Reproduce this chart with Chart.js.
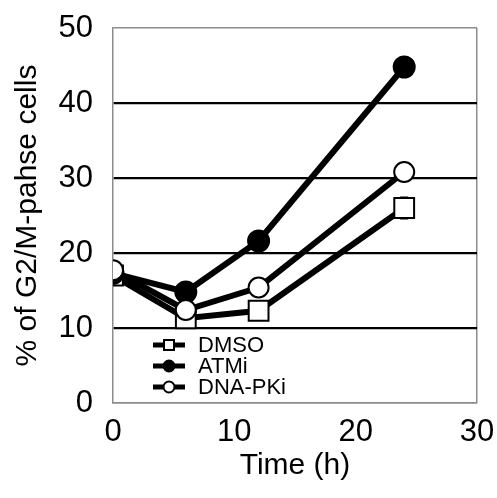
<!DOCTYPE html>
<html>
<head>
<meta charset="utf-8">
<script src="https://cdn.jsdelivr.net/npm/chart.js@4/dist/chart.umd.min.js"></script>
<style>
  body { margin: 0; background: #fff; }
  canvas { display: block; }
</style>
</head>
<body>
<canvas id="chart" width="497" height="498"></canvas>
<script>
// time points (h) and % of G2/M cells
const timePoints = [0, 6, 12, 24];
const dmso = [17.0, 11.3, 12.3, 26.0];
const dmsoErr = [0, 0, 0, 1.4];
const atmi = [17.3, 14.8, 21.6, 44.8];
const dnapki = [17.7, 12.4, 15.4, 30.8];
const seriesNames = ["DMSO", "ATMi", "DNA-PKi"];
const xTicks = [0, 10, 20, 30];
const yTicks = [0, 10, 20, 30, 40, 50];

const FONT = "'Liberation Sans', Arial, sans-serif";
const GRAY = "#8c8c8c";

const toPts = (vals) => vals.map((v, i) => ({ x: timePoints[i], y: v }));

// error bars (only DMSO has visible ones)
const errorBars = {
  id: "errorBars",
  beforeDatasetsDraw(chart) {
    const ctx = chart.ctx;
    const meta = chart.getDatasetMeta(0);
    const ys = chart.scales.y;
    ctx.save();
    ctx.strokeStyle = "#000";
    ctx.lineWidth = 2;
    meta.data.forEach((pt, i) => {
      const e = dmsoErr[i];
      if (!e) return;
      const top = ys.getPixelForValue(dmso[i] + e);
      const bot = ys.getPixelForValue(dmso[i] - e);
      ctx.beginPath();
      ctx.moveTo(pt.x, top); ctx.lineTo(pt.x, bot);
      ctx.moveTo(pt.x - 4, top); ctx.lineTo(pt.x + 4, top);
      ctx.moveTo(pt.x - 4, bot); ctx.lineTo(pt.x + 4, bot);
      ctx.stroke();
    });
    ctx.restore();
  }
};

// legend drawn inside the plot: short line with marker, then label
const innerLegend = {
  id: "innerLegend",
  afterDraw(chart) {
    const ctx = chart.ctx;
    const a = chart.chartArea;
    const x0 = a.left + 40, x1 = a.left + 72, xm = (x0 + x1) / 2;
    const rowY = [a.bottom - 58, a.bottom - 37, a.bottom - 16];
    ctx.save();
    chart.data.datasets.forEach((ds, i) => {
      const y = rowY[i];
      ctx.strokeStyle = "#000";
      ctx.lineWidth = 5;
      ctx.beginPath(); ctx.moveTo(x0, y); ctx.lineTo(x1, y); ctx.stroke();
      ctx.lineWidth = 2;
      ctx.fillStyle = ds.pointBackgroundColor;
      if (ds.pointStyle === "rect") {
        ctx.fillRect(xm - 5, y - 5, 10, 10);
        ctx.strokeRect(xm - 5, y - 5, 10, 10);
      } else {
        ctx.beginPath(); ctx.arc(xm, y, 5.5, 0, Math.PI * 2); ctx.fill(); ctx.stroke();
      }
      ctx.fillStyle = "#000";
      ctx.font = "22px " + FONT;
      ctx.textBaseline = "middle";
      ctx.fillText(ds.label, x1 + 13, y + 1);
    });
    ctx.restore();
  }
};

new Chart(document.getElementById("chart"), {
  type: "line",
  data: {
    datasets: [
      {
        label: seriesNames[0], data: toPts(dmso), order: 3,
        borderColor: "#000", borderWidth: 6,
        pointStyle: "rect", pointRadius: 14, pointBorderWidth: 2,
        pointBackgroundColor: "#fff", pointBorderColor: "#000"
      },
      {
        label: seriesNames[1], data: toPts(atmi), order: 2,
        borderColor: "#000", borderWidth: 6,
        pointStyle: "circle", pointRadius: 10.5, pointBorderWidth: 2,
        pointBackgroundColor: "#000", pointBorderColor: "#000"
      },
      {
        label: seriesNames[2], data: toPts(dnapki), order: 1,
        borderColor: "#000", borderWidth: 6,
        pointStyle: "circle", pointRadius: 10, pointBorderWidth: 2,
        pointBackgroundColor: "#fff", pointBorderColor: "#000"
      }
    ]
  },
  options: {
    responsive: false,
    animation: false,
    devicePixelRatio: 1,
    layout: { padding: { left: 0, right: 20, top: 28, bottom: 0 } },
    plugins: { legend: { display: false }, tooltip: { enabled: false } },
    scales: {
      x: {
        type: "linear", min: 0, max: 30,
        afterBuildTicks: (s) => { s.ticks = xTicks.map((v) => ({ value: v })); },
        afterFit: (s) => { s.height = 95; s.paddingLeft = 0; s.paddingRight = 0; },
        border: { display: true, color: GRAY, width: 1.5 },
        grid: {
          drawTicks: false,
          color: (c) => (c.tick && c.tick.value === 30 ? GRAY : "rgba(0,0,0,0)"),
          lineWidth: 1.5
        },
        ticks: { color: "#000", padding: 11, font: { family: FONT, size: 31 } },
        title: {
          display: true, text: "Time (h)", color: "#000",
          font: { family: FONT, size: 30 }, padding: { top: 4, bottom: 14 }
        }
      },
      y: {
        min: 0, max: 50,
        afterBuildTicks: (s) => { s.ticks = yTicks.map((v) => ({ value: v })); },
        afterFit: (s) => { s.width = 113; s.paddingTop = 0; s.paddingBottom = 0; },
        border: { display: true, color: GRAY, width: 1.5 },
        grid: {
          drawTicks: false,
          color: (c) => (c.tick && (c.tick.value === 0 || c.tick.value === 50) ? GRAY : "#000"),
          lineWidth: (c) => (c.tick && (c.tick.value === 0 || c.tick.value === 50) ? 1.5 : 2.2)
        },
        ticks: { color: "#000", padding: 20, font: { family: FONT, size: 31 } },
        title: {
          display: true, text: "% of G2/M-pahse cells", color: "#000",
          font: { family: FONT, size: 30 }, padding: { top: 10, bottom: 10 }
        }
      }
    }
  },
  plugins: [errorBars, innerLegend]
});
</script>
</body>
</html>
